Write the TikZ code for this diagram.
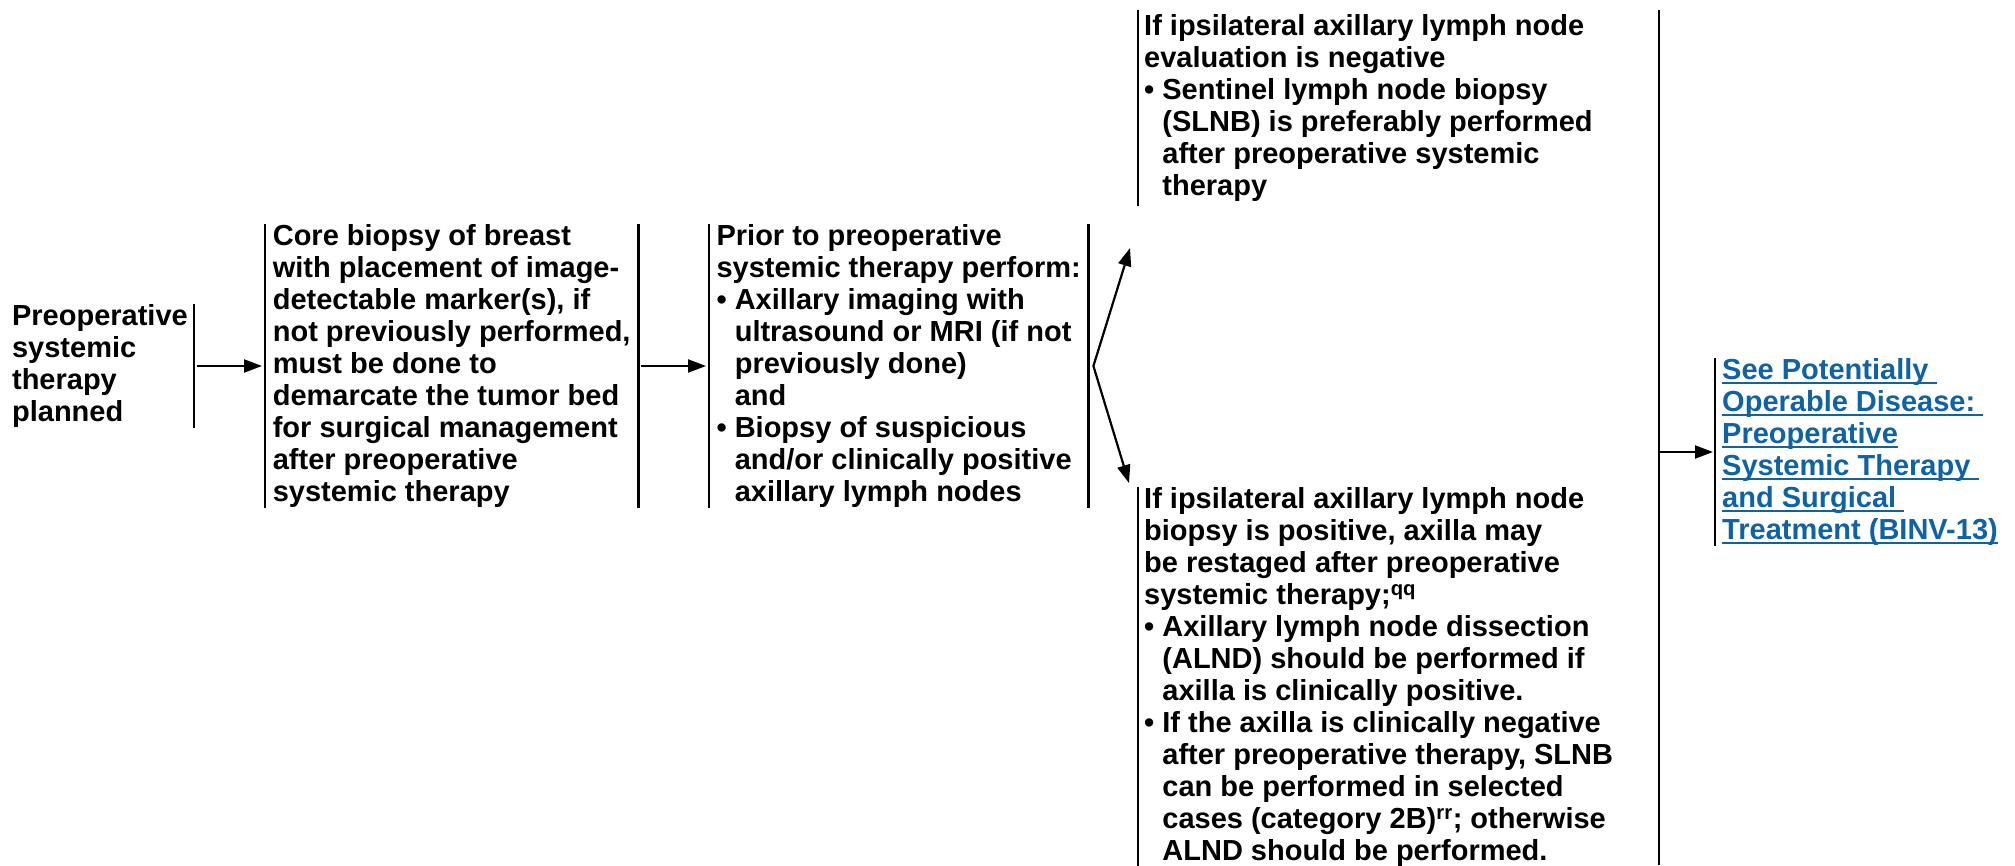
\documentclass[tikz,border=0pt]{standalone}
\usepackage{fontspec}
\setmainfont{Liberation Sans}
\usepackage{tikz}
\usetikzlibrary{arrows.meta}

\definecolor{linkblue}{HTML}{0F62A6}
\newlength\ulw
\newcommand\ulink[1]{\settowidth\ulw{#1}\rlap{\rule[-4.5pt]{\ulw}{2pt}}#1}
\newcommand\bul{\textbullet\ }
\newcommand\ind{\hphantom{\textbullet\ }}

\tikzset{
	box/.style={align=left, inner xsep=6pt, inner ysep=0pt, font=\fontsize{29}{32}\selectfont\bfseries},
	bar/.style={line width=2.4pt},
	arr/.style={line width=2.2pt, -{Triangle[length=18pt, width=13pt]}},
}

\begin{document}
\begin{tikzpicture}[x=1pt, y=-1pt]
	\useasboundingbox (0,0) rectangle (2015,865);

	\node[box, anchor=east, minimum height=122pt] (plan) at (194,366) {Preoperative\\systemic\\therapy\\planned};
	\node[box, anchor=west, minimum height=280pt, minimum width=373pt] (core) at (265,366) {Core biopsy of breast\\with placement of image-\\detectable marker(s), if\\not previously performed,\\must be done to\\demarcate the tumor bed\\for surgical management\\after preoperative\\systemic therapy};
	\node[box, anchor=west, minimum height=280pt, minimum width=379pt, inner xsep=5pt] (prior) at (709,366) {Prior to preoperative\\systemic therapy perform:\\\bul Axillary imaging with\\\ind ultrasound or MRI (if not\\\ind previously done)\\\ind and\\\bul Biopsy of suspicious\\\ind and/or clinically positive\\\ind axillary lymph nodes};
	\node[box, anchor=north west, minimum height=196pt] (neg) at (1138,10) {If ipsilateral axillary lymph node\\evaluation is negative\\\bul Sentinel lymph node biopsy\\\ind (SLNB) is preferably performed\\\ind after preoperative systemic\\\ind therapy};
	\node[box, anchor=north west, minimum height=378pt] (pos) at (1138,487) {If ipsilateral axillary lymph node\\biopsy is positive, axilla may\\be restaged after preoperative\\systemic therapy;\textsuperscript{qq}\\\bul Axillary lymph node dissection\\\ind (ALND) should be performed if\\\ind axilla is clinically positive.\\\bul If the axilla is clinically negative\\\ind after preoperative therapy, SLNB\\\ind can be performed in selected\\\ind cases (category 2B)\textsuperscript{rr}; otherwise\\\ind ALND should be performed.};
	\node[box, anchor=west, minimum height=185pt, inner xsep=7pt, text=linkblue] (see) at (1715,452) {\ulink{See Potentially\ }\\\ulink{Operable Disease:\ }\\\ulink{Preoperative}\\\ulink{Systemic Therapy\ }\\\ulink{and Surgical\ }\\\ulink{Treatment (BINV-13)}};

	% bars
	\foreach \n in {core,prior,neg,pos,see}
		\draw[bar] (\n.north west) -- (\n.south west);
	\foreach \n in {plan,core,prior}
		\draw[bar] (\n.north east) -- (\n.south east);

	\coordinate (colTop) at (1659,10);
	\coordinate (colBot) at (1659,865);
	\draw[line width=2.8pt] (colTop) -- (colBot);

	\draw[arr, shorten <=3pt, shorten >=3pt] (plan.east) -- (core.west);
	\draw[arr, shorten <=3pt, shorten >=3pt] (core.east) -- (prior.west);

	\coordinate (fork) at ([xshift=5pt]prior.east);
	\coordinate (tipUp) at (1130,248);
	\coordinate (tipDn) at (1129,483);
	\draw[arr] (fork) -- (tipUp);
	\draw[arr] (fork) -- (tipDn);

	\draw[arr, shorten >=2pt] (colTop |- see.west) -- (see.west);
\end{tikzpicture}
\end{document}
